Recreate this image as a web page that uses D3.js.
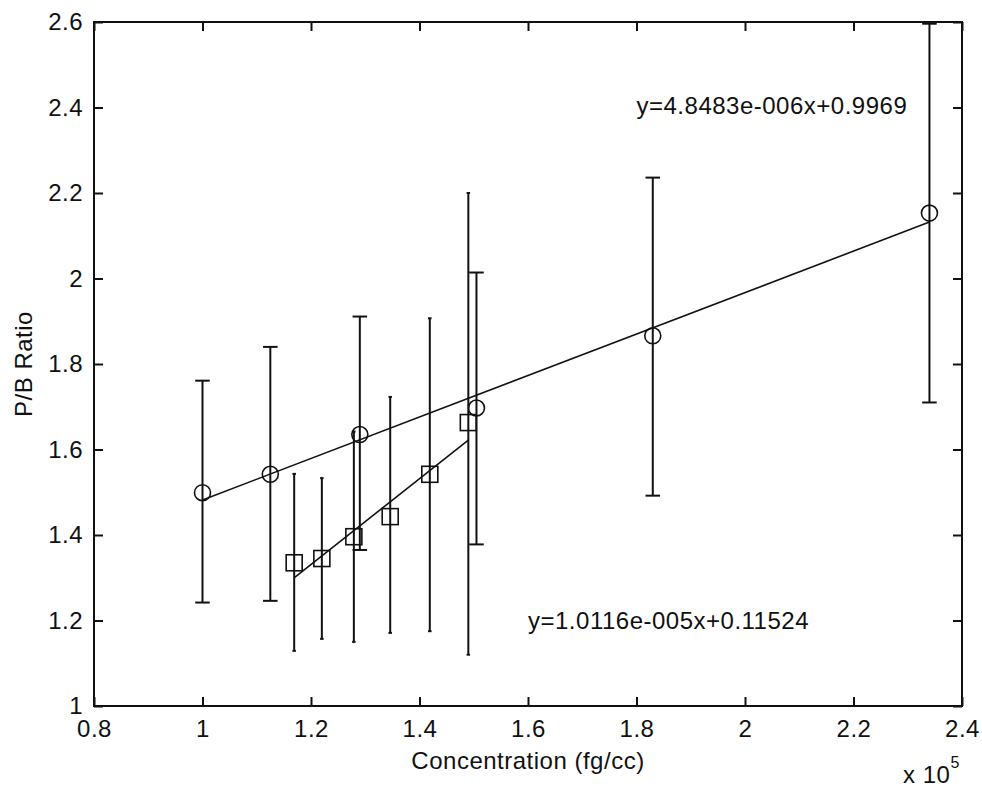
<!DOCTYPE html>
<html>
<head>
<meta charset="utf-8">
<script src="https://cdn.jsdelivr.net/npm/d3@7"></script>
<style>
  body { margin: 0; background: #fff; }
  text { font-family: "Liberation Sans", Arial, sans-serif; font-size: 24px; fill: #111; letter-spacing: 0.5px; }
</style>
</head>
<body>
<div class="chart-container"></div>
<script>
// x values are in units of 1e5 fg/cc
const circleX = [1.0, 1.125, 1.29, 1.505, 1.83, 2.34];
const circleY = [1.499, 1.542, 1.635, 1.697, 1.866, 2.153];
const circleLow = [1.242, 1.246, 1.365, 1.378, 1.492, 1.71];
const circleHigh = [1.761, 1.84, 1.911, 2.014, 2.236, 2.596];

const squareX = [1.169, 1.22, 1.279, 1.346, 1.419, 1.49];
const squareY = [1.335, 1.345, 1.396, 1.443, 1.542, 1.663];
const squareLow = [1.129, 1.157, 1.15, 1.171, 1.175, 1.12];
const squareHigh = [1.543, 1.533, 1.642, 1.723, 1.907, 2.2];

// fitted lines, end points
const fit1 = [[1.0, 1.482], [2.34, 2.132]];
const fit2 = [[1.17, 1.301], [1.49, 1.622]];

const eq1 = { x: 1.8, y: 2.4, label: "y=4.8483e-006x+0.9969" };
const eq2 = { x: 1.6, y: 1.195, label: "y=1.0116e-005x+0.11524" };

const xTicks = [0.8, 1, 1.2, 1.4, 1.6, 1.8, 2, 2.2, 2.4];
const xTickLabels = ["0.8", "1", "1.2", "1.4", "1.6", "1.8", "2", "2.2", "2.4"];
const yTicks = [1, 1.2, 1.4, 1.6, 1.8, 2, 2.2, 2.4, 2.6];
const yTickLabels = ["1", "1.2", "1.4", "1.6", "1.8", "2", "2.2", "2.4", "2.6"];

const w = 982, h = 790;
const mLeft = 94, mRight = 962, mTop = 22, mBottom = 706;

const svg = d3.select(".chart-container").append("svg")
  .attr("width", w).attr("height", h);

const xScale = d3.scaleLinear().domain([0.8, 2.4]).range([mLeft, mRight]);
const yScale = d3.scaleLinear().domain([1, 2.6]).range([mBottom, mTop]);

svg.append("clipPath").attr("id", "clip")
  .append("rect").attr("x", mLeft).attr("y", mTop)
  .attr("width", mRight - mLeft).attr("height", mBottom - mTop);

// axes, ticks pointing inward on all sides
const tickLen = 9;
const fmtX = (d, i) => xTickLabels[i];
const fmtY = (d, i) => yTickLabels[i];

svg.append("g").attr("transform", "translate(0," + mBottom + ")")
  .call(d3.axisBottom(xScale).tickValues(xTicks).tickFormat(fmtX)
    .tickSizeInner(-tickLen).tickSizeOuter(0).tickPadding(14));
svg.append("g").attr("transform", "translate(0," + mTop + ")")
  .call(d3.axisTop(xScale).tickValues(xTicks).tickFormat("")
    .tickSizeInner(-tickLen).tickSizeOuter(0));
svg.append("g").attr("transform", "translate(" + mLeft + ",0)")
  .call(d3.axisLeft(yScale).tickValues(yTicks).tickFormat(fmtY)
    .tickSizeInner(-tickLen).tickSizeOuter(0).tickPadding(11));
svg.append("g").attr("transform", "translate(" + mRight + ",0)")
  .call(d3.axisRight(yScale).tickValues(yTicks).tickFormat("")
    .tickSizeInner(-tickLen).tickSizeOuter(0));

svg.selectAll(".domain").remove();
svg.selectAll(".tick line").attr("stroke", "#111").attr("stroke-width", 2);
svg.selectAll(".tick text").attr("fill", "#111");

svg.append("rect")
  .attr("x", mLeft).attr("y", mTop)
  .attr("width", mRight - mLeft).attr("height", mBottom - mTop)
  .attr("fill", "none").attr("stroke", "#111").attr("stroke-width", 2);

const plot = svg.append("g").attr("clip-path", "url(#clip)");

// error bars, cap half width = x range / 100 as in matlab errorbar
function errorBars(xs, lo, hi) {
  const tee = (d3.max(xs) - d3.min(xs)) / 100;
  const g = plot.append("g").attr("stroke", "#111").attr("stroke-width", 2);
  xs.forEach((x, i) => {
    g.append("line")
      .attr("x1", xScale(x)).attr("x2", xScale(x))
      .attr("y1", yScale(lo[i])).attr("y2", yScale(hi[i]));
    [lo[i], hi[i]].forEach((v) => {
      g.append("line")
        .attr("x1", xScale(x - tee)).attr("x2", xScale(x + tee))
        .attr("y1", yScale(v)).attr("y2", yScale(v));
    });
  });
}
errorBars(circleX, circleLow, circleHigh);
errorBars(squareX, squareLow, squareHigh);

// fit lines
const line = d3.line().x((d) => xScale(d[0])).y((d) => yScale(d[1]));
[fit1, fit2].forEach((f) => {
  plot.append("path").attr("d", line(f))
    .attr("fill", "none").attr("stroke", "#111").attr("stroke-width", 1.6);
});

// markers
plot.selectAll("circle.pt")
  .data(circleX.map((x, i) => [x, circleY[i]]))
  .enter().append("circle")
  .attr("class", "pt")
  .attr("cx", (d) => xScale(d[0])).attr("cy", (d) => yScale(d[1]))
  .attr("r", 8)
  .attr("fill", "none").attr("stroke", "#111").attr("stroke-width", 1.6);

plot.selectAll("rect.pt")
  .data(squareX.map((x, i) => [x, squareY[i]]))
  .enter().append("rect")
  .attr("class", "pt")
  .attr("x", (d) => xScale(d[0]) - 8).attr("y", (d) => yScale(d[1]) - 8)
  .attr("width", 16).attr("height", 16)
  .attr("fill", "none").attr("stroke", "#111").attr("stroke-width", 1.6);

// equations
[eq1, eq2].forEach((e) => {
  svg.append("text")
    .attr("x", xScale(e.x)).attr("y", yScale(e.y))
    .attr("dominant-baseline", "middle")
    .text(e.label);
});

// axis labels
svg.append("text")
  .attr("x", (mLeft + mRight) / 2).attr("y", 769)
  .attr("text-anchor", "middle")
  .text("Concentration (fg/cc)");

svg.append("text")
  .attr("transform", "translate(32," + (mTop + mBottom) / 2 + ") rotate(-90)")
  .attr("text-anchor", "middle")
  .text("P/B Ratio");

// exponent label
const expo = svg.append("text").attr("x", 903).attr("y", 783);
expo.append("tspan").text("x 10");
expo.append("tspan").attr("dy", -15).attr("font-size", 16).text("5");
</script>
</body>
</html>
